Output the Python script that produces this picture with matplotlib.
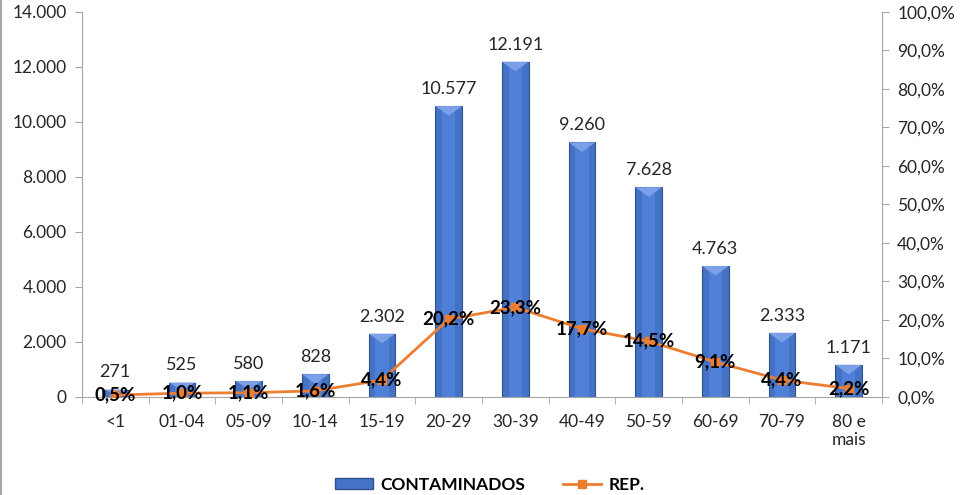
import numpy as np
import matplotlib.pyplot as plt
from matplotlib.ticker import FuncFormatter, MultipleLocator
from matplotlib.patches import Patch
from matplotlib.lines import Line2D

plt.rcParams["font.family"] = ["Lato", "DejaVu Sans"]

# dados
faixas = ["<1", "01-04", "05-09", "10-14", "15-19", "20-29", "30-39",
          "40-49", "50-59", "60-69", "70-79", "80 e\nmais"]
contaminados = [271, 525, 580, 828, 2302, 10577, 12191, 9260, 7628, 4763, 2333, 1171]
rep = [0.5, 1.0, 1.1, 1.6, 4.4, 20.2, 23.3, 17.7, 14.5, 9.1, 4.4, 2.2]

azul = "#4472C4"
laranja = "#ED7D31"

fig = plt.figure(figsize=(9.6, 4.95), dpi=100)
ax = fig.add_axes([0.0854, 0.198, 0.8333, 0.7778])
x = np.arange(len(faixas))

# barras com um leve efeito de bisel
ax.bar(x, contaminados, width=0.4, color=azul, edgecolor="#2F528F", linewidth=0.8, zorder=2)
ax.bar(x, contaminados, width=0.2, color="#4F7FD6", linewidth=0, zorder=2)
for xi, v in zip(x, contaminados):
    h = min(350, v * 0.5)
    ax.fill([xi - 0.2, xi + 0.2, xi], [v, v, v - h], color="#7BA0E8", zorder=3, lw=0)
    ax.text(xi, v + 330, f"{v:,}".replace(",", "."), ha="center", va="bottom",
            fontsize=13, color="#262626", zorder=5)

ax.set_xlim(-0.5, len(faixas) - 0.5)
ax.set_ylim(0, 14000)
ax.yaxis.set_major_locator(MultipleLocator(2000))
ax.yaxis.set_major_formatter(FuncFormatter(lambda v, p: f"{int(v):,}".replace(",", ".")))
ax.set_xticks(x)
ax.set_xticklabels(faixas)
ax.set_xticks(np.arange(-0.5, len(faixas)), minor=True)
ax.tick_params(axis="x", which="major", length=0, pad=12, labelsize=12.5, colors="#262626")
ax.tick_params(axis="x", which="minor", length=5, color="#A6A6A6")
ax.tick_params(axis="y", length=5, color="#A6A6A6", labelsize=12.5, labelcolor="#262626", pad=6)
for s in ["top", "right"]:
    ax.spines[s].set_visible(False)
for s in ["left", "bottom"]:
    ax.spines[s].set_color("#A6A6A6")

ax2 = ax.twinx()
ax2.plot(x, rep, color=laranja, lw=2, marker="s", ms=6, zorder=4)
for xi, p in zip(x, rep):
    ax2.text(xi, p, f"{p:.1f}%".replace(".", ","), ha="center", va="center",
             fontsize=13.5, fontweight="bold", color="black", zorder=6)
ax2.set_ylim(0, 100)
ax2.yaxis.set_major_locator(MultipleLocator(10))
ax2.yaxis.set_major_formatter(FuncFormatter(lambda v, p: f"{v:.1f}%".replace(".", ",")))
ax2.tick_params(axis="y", length=5, color="#A6A6A6", labelsize=12.5, labelcolor="#262626", pad=6)
for s in ["top", "left", "bottom"]:
    ax2.spines[s].set_visible(False)
ax2.spines["right"].set_color("#A6A6A6")

# legenda
handles = [Patch(facecolor=azul, edgecolor="#2F528F", label="CONTAMINADOS"),
           Line2D([0], [0], color=laranja, lw=2, marker="s", ms=6, label="REP.")]
leg = fig.legend(handles=handles, loc="center", bbox_to_anchor=(0.51, 0.02), ncol=2,
                 frameon=False, prop={"weight": "bold", "size": 12.5}, handlelength=2.2,
                 handleheight=0.6, handletextpad=0.4, columnspacing=2.2)

# moldura à esquerda
fig.add_artist(Line2D([0.001, 0.001], [0, 1], color="#A6A6A6", lw=1.5))

fig.savefig("out.png", dpi=100)
